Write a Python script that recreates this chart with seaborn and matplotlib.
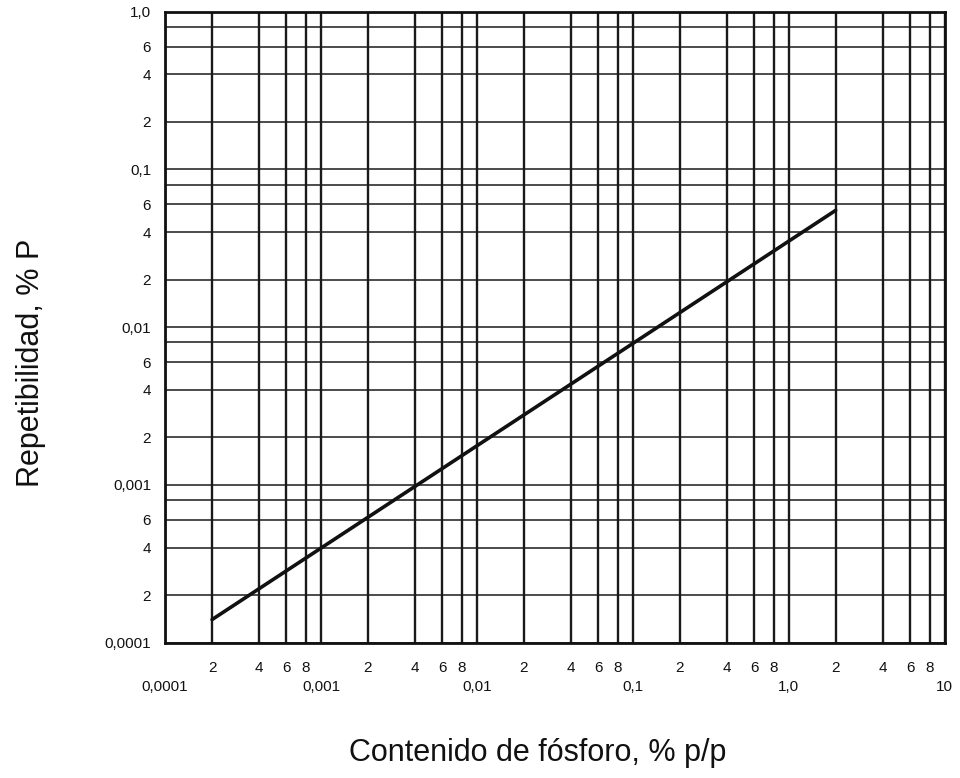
import numpy as np
import pandas as pd
import matplotlib
matplotlib.use("Agg")
import matplotlib.pyplot as plt
import matplotlib.ticker as mticker
import seaborn as sns

# curve (phosphorus content vs repeatability)
contenido = [0.0002, 2.0]
repetibilidad = [0.00014, 0.055]

# axis ticks and labels
x_major = [0.0001, 0.001, 0.01, 0.1, 1.0, 10.0]
x_major_labels = ["0,0001", "0,001", "0,01", "0,1", "1,0", "10"]
y_major = [0.0001, 0.001, 0.01, 0.1, 1.0]
y_major_labels = ["0,0001", "0,001", "0,01", "0,1", "1,0"]
x_subs = [2, 4, 6, 8]
x_sub_labels = ["2", "4", "6", "8"]
y_subs = [2, 4, 6, 8]
y_sub_labels = ["2", "4", "6", ""]

sns.set_style("white")
plt.rcParams["font.family"] = ["Liberation Sans", "DejaVu Sans"]

df = pd.DataFrame({"contenido": contenido, "repetibilidad": repetibilidad})

fig = plt.figure(figsize=(9.6, 7.78), dpi=100)
ax = fig.add_axes([0.172, 0.174, 0.812, 0.811])

sns.lineplot(data=df, x="contenido", y="repetibilidad", color="#111111",
             linewidth=2.6, ax=ax, zorder=5)

ax.set_xscale("log")
ax.set_yscale("log")
ax.set_xlim(x_major[0], x_major[-1])
ax.set_ylim(y_major[0], y_major[-1])

# minor positions: subs within each decade
x_minor = [d * s for d in x_major[:-1] for s in x_subs]
x_minor_lab = [lab for d in x_major[:-1] for lab in x_sub_labels]
y_minor = [d * s for d in y_major[:-1] for s in y_subs]
y_minor_lab = [lab for d in y_major[:-1] for lab in y_sub_labels]

ax.xaxis.set_major_locator(mticker.FixedLocator(x_major))
ax.xaxis.set_major_formatter(mticker.FixedFormatter(x_major_labels))
ax.xaxis.set_minor_locator(mticker.FixedLocator(x_minor))
ax.xaxis.set_minor_formatter(mticker.FixedFormatter(x_minor_lab))
ax.yaxis.set_major_locator(mticker.FixedLocator(y_major))
ax.yaxis.set_major_formatter(mticker.FixedFormatter(y_major_labels))
ax.yaxis.set_minor_locator(mticker.FixedLocator(y_minor))
ax.yaxis.set_minor_formatter(mticker.FixedFormatter(y_minor_lab))

ax.tick_params(axis="both", which="both", length=0, labelsize=11, colors="#111111")
ax.tick_params(axis="x", which="minor", pad=13)
ax.tick_params(axis="x", which="major", pad=27)
ax.tick_params(axis="y", which="both", pad=10)

ax.grid(True, axis="x", which="both", color="#1a1a1a", linewidth=1.7)
ax.grid(True, axis="y", which="both", color="#1a1a1a", linewidth=1.1)

for sp in ax.spines.values():
    sp.set_visible(True)
    sp.set_color("#111111")
    sp.set_linewidth(2)

ax.set_xlabel("Contenido de fósforo, % p/p", fontsize=22, color="#111111")
ax.set_ylabel("Repetibilidad, % P", fontsize=22, color="#111111")
# label positions in axes fractions (axes spans px 165..945, 12..643)
ax.xaxis.set_label_coords((538 - 165) / 780, (643 - 738) / 631)
ax.yaxis.set_label_coords((46 - 165) / 780, (643 - 363) / 631)

fig.savefig("out.png", dpi=100)
